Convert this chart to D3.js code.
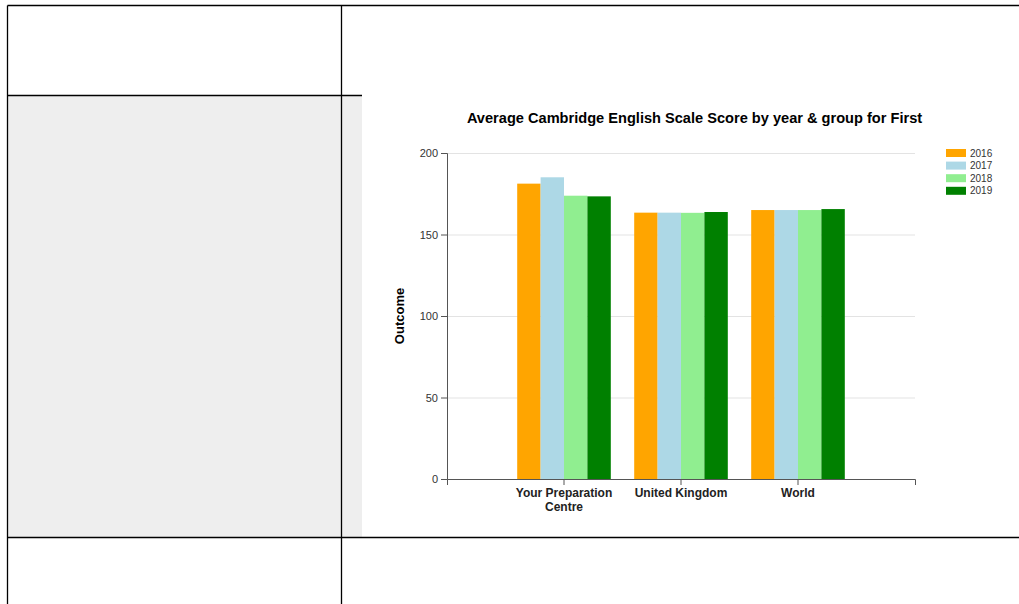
<!DOCTYPE html>
<html lang="en">
<head>
    <meta charset="UTF-8">
    <title>Average Cambridge English Scale Score</title>
    <script src="https://d3js.org/d3.v7.min.js"></script>
    <style>
        body {
            margin: 0;
            background-color: white;
            font-family: Arial, "Liberation Sans", sans-serif;
        }

        .axis text {
            font-size: 11px;
            fill: #333;
        }

        .axis path, .axis line {
            stroke: #555;
        }

        .grid line {
            stroke: #e3e3e3;
        }

        .grid path {
            display: none;
        }

        .x-axis text {
            font-size: 12px;
            font-weight: bold;
            fill: #222;
        }
    </style>
</head>
<body>
    <div id="chart-container"></div>
    <script>
        // Data
        const groups = ["Your Preparation Centre", "United Kingdom", "World"];
        const years = ["2016", "2017", "2018", "2019"];
        const scores2016 = [181.2, 163.4, 165.0];
        const scores2017 = [185.1, 163.4, 165.0];
        const scores2018 = [173.8, 163.3, 165.0];
        const scores2019 = [173.4, 163.8, 165.6];
        const yTicks = [0, 50, 100, 150, 200];
        const colors = ["#ffa500", "#add8e6", "#90ee90", "#008000"];

        const seriesByYear = [scores2016, scores2017, scores2018, scores2019];
        const data = groups.map((g, i) => ({
            group: g,
            values: years.map((y, j) => ({ year: y, score: seriesByYear[j][i] }))
        }));

        const pageW = 1019, pageH = 604;
        const svg = d3.select("#chart-container")
            .append("svg")
            .attr("width", pageW)
            .attr("height", pageH);

        // Page table background and lines
        svg.append("rect")
            .attr("x", 8).attr("y", 96)
            .attr("width", 354).attr("height", 441)
            .attr("fill", "#eeeeee");

        const lines = [
            [7.5, 5.5, pageW, 5.5],
            [7.5, 5.5, 7.5, pageH],
            [341.5, 5.5, 341.5, pageH],
            [7.5, 95.5, 362, 95.5],
            [7.5, 537.5, pageW, 537.5]
        ];
        svg.selectAll(".table-line")
            .data(lines)
            .enter()
            .append("line")
            .attr("class", "table-line")
            .attr("x1", d => d[0]).attr("y1", d => d[1])
            .attr("x2", d => d[2]).attr("y2", d => d[3])
            .attr("stroke", "#000")
            .attr("stroke-width", 1.3);

        // Chart area
        const margin = { top: 153, left: 447 };
        const plotW = 468, plotH = 326;

        const g = svg.append("g")
            .attr("transform", `translate(${margin.left},${margin.top})`);

        const x0 = d3.scaleBand()
            .domain(groups)
            .range([0, plotW])
            .paddingInner(0.2)
            .paddingOuter(0.6);

        const x1 = d3.scaleBand()
            .domain(years)
            .range([0, x0.bandwidth()]);

        const y = d3.scaleLinear()
            .domain([0, 200])
            .range([plotH, 0]);

        const color = d3.scaleOrdinal().domain(years).range(colors);

        // Gridlines
        g.append("g")
            .attr("class", "grid")
            .call(d3.axisLeft(y).tickValues(yTicks.slice(1)).tickSize(-plotW).tickFormat(""));

        // Bars
        const groupSel = g.selectAll(".group")
            .data(data)
            .enter()
            .append("g")
            .attr("class", "group")
            .attr("transform", d => `translate(${x0(d.group)},0)`);

        groupSel.selectAll("rect")
            .data(d => d.values)
            .enter()
            .append("rect")
            .attr("x", d => x1(d.year))
            .attr("y", d => y(d.score))
            .attr("width", x1.bandwidth())
            .attr("height", d => plotH - y(d.score))
            .attr("fill", d => color(d.year));

        // Axes
        g.append("g")
            .attr("class", "axis")
            .call(d3.axisLeft(y).tickValues(yTicks));

        const xAxis = g.append("g")
            .attr("class", "axis x-axis")
            .attr("transform", `translate(0,${plotH})`)
            .call(d3.axisBottom(x0));

        // Wrap long category labels
        xAxis.selectAll(".tick text").each(function(d) {
            const text = d3.select(this);
            const words = d.split(" ");
            if (words.length > 2) {
                text.text(null);
                text.append("tspan").attr("x", 0).attr("dy", "0.71em").text(words.slice(0, 2).join(" "));
                text.append("tspan").attr("x", 0).attr("dy", "1.2em").text(words.slice(2).join(" "));
            }
        });
        xAxis.selectAll(".tick text").attr("y", 9);

        // Title
        svg.append("text")
            .attr("x", 694.5)
            .attr("y", 123)
            .attr("text-anchor", "middle")
            .style("font-size", "14.6px")
            .style("font-weight", "bold")
            .text("Average Cambridge English Scale Score by year & group for First");

        // Y label
        svg.append("text")
            .attr("transform", `translate(404,316) rotate(-90)`)
            .attr("text-anchor", "middle")
            .style("font-size", "13px")
            .style("font-weight", "bold")
            .text("Outcome");

        // Legend
        const legend = svg.append("g").attr("transform", "translate(946,149)");
        const items = legend.selectAll(".legend-item")
            .data(years)
            .enter()
            .append("g")
            .attr("class", "legend-item")
            .attr("transform", (d, i) => `translate(0,${i * 12.6})`);

        items.append("rect")
            .attr("width", 20)
            .attr("height", 8)
            .attr("fill", d => color(d));

        items.append("text")
            .attr("x", 24)
            .attr("y", 4)
            .attr("dy", "0.35em")
            .style("font-size", "10px")
            .style("fill", "#333")
            .text(d => d);
    </script>
</body>
</html>
